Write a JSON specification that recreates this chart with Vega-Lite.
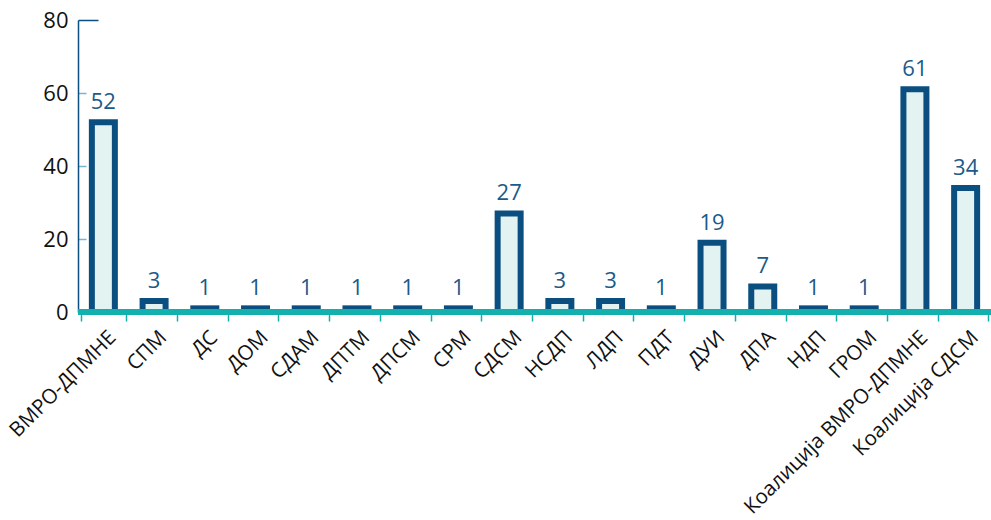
{
  "$schema": "https://vega.github.io/schema/vega-lite/v6.json",
  "autosize": {"type": "none"},
  "width": 913,
  "height": 292,
  "padding": {"left": 78, "top": 20, "right": 0, "bottom": 208},
  "background": "white",
  "config": {
    "view": {"stroke": null},
    "font": "Open Sans",
    "axis": {"labelFont": "Open Sans", "grid": false}
  },
  "data": {
    "values": [
      {"party": "ВМРО-ДПМНЕ", "seats": 52},
      {"party": "СПМ", "seats": 3},
      {"party": "ДС", "seats": 1},
      {"party": "ДОМ", "seats": 1},
      {"party": "СДАМ", "seats": 1},
      {"party": "ДПТМ", "seats": 1},
      {"party": "ДПСМ", "seats": 1},
      {"party": "СРМ", "seats": 1},
      {"party": "СДСМ", "seats": 27},
      {"party": "НСДП", "seats": 3},
      {"party": "ЛДП", "seats": 3},
      {"party": "ПДТ", "seats": 1},
      {"party": "ДУИ", "seats": 19},
      {"party": "ДПА", "seats": 7},
      {"party": "НДП", "seats": 1},
      {"party": "ГРОМ", "seats": 1},
      {"party": "Коалиција ВМРО-ДПМНЕ", "seats": 61},
      {"party": "Коалиција СДСМ", "seats": 34}
    ]
  },
  "encoding": {
    "x": {
      "field": "party",
      "type": "nominal",
      "sort": null,
      "title": null,
      "axis": {
        "labelAngle": -45,
        "labelFontSize": 20.5,
        "labelLimit": 0,
        "labelColor": "#111111",
        "labelPadding": 6,
        "labelOffset": 2,
        "domain": false,
        "tickColor": "#13b0ad",
        "tickWidth": 1.5,
        "tickSize": 9,
        "tickBand": "extent"
      }
    },
    "y": {
      "field": "seats",
      "type": "quantitative",
      "title": null,
      "scale": {"domain": [0, 80], "nice": false},
      "axis": {
        "values": [0, 20, 40, 60, 80],
        "labelFontSize": 22,
        "labelColor": "#111111",
        "labelPadding": {"condition": {"test": "datum.value == 80", "value": 30}, "value": 18},
        "domainColor": "#0b4f80",
        "domainWidth": 1.5,
        "tickColor": {"condition": {"test": "datum.value == 80", "value": "#0b4f80"}, "value": "#7fb3c9"},
        "tickSize": {"condition": {"test": "datum.value == 80", "value": -20}, "value": -8},
        "tickWidth": 1.5
      }
    }
  },
  "layer": [
    {
      "mark": {"type": "bar", "width": 23, "fill": "#e2f3f2", "stroke": "#0b4f80", "strokeWidth": 6}
    },
    {
      "mark": {"type": "text", "baseline": "bottom", "dy": -8, "fontSize": 22, "color": "#1b5a89", "font": "Open Sans"},
      "encoding": {"text": {"field": "seats", "type": "quantitative"}}
    },
    {
      "mark": {"type": "rule", "color": "#13b0ad", "strokeWidth": 5},
      "encoding": {"x": {"value": 0}, "x2": {"value": 913}, "y": {"datum": 0}}
    }
  ]
}
